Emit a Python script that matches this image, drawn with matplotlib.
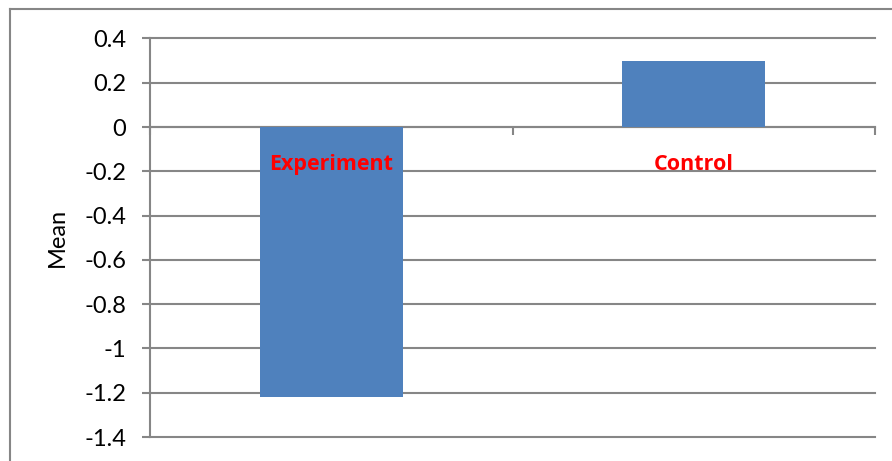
import matplotlib
matplotlib.use("Agg")
import matplotlib.pyplot as plt
from matplotlib.lines import Line2D

categories = ["Experiment", "Control"]
means = [-1.22, 0.30]
yticks = [0.4, 0.2, 0, -0.2, -0.4, -0.6, -0.8, -1, -1.2, -1.4]

bar_color = "#4F81BD"
grid_color = "#868686"

plt.rcParams["font.family"] = ["Lato", "DejaVu Sans"]

fig = plt.figure(figsize=(8.92, 4.61), dpi=100)
ax = fig.add_axes([150 / 892, 1 - 437 / 461, 725 / 892, 398.5 / 461])

x = list(range(len(categories)))
ax.bar(x, means, width=0.395, color=bar_color, zorder=3)

ax.set_xlim(-0.5, len(categories) - 0.5)
ax.set_ylim(-1.4, 0.4)
ax.set_yticks(yticks)
ax.set_yticklabels(["0" if v == 0 else f"{v:g}" for v in yticks], fontsize=17)
ax.yaxis.grid(True, color=grid_color, linewidth=1.5, zorder=1)
for gl in ax.get_ygridlines():
    gl.set_clip_on(False)
ax.set_ylabel("Mean", fontsize=17, labelpad=12)

# category axis sits on the zero line, ticks between categories
ax.spines["bottom"].set_position(("data", 0))
ax.spines["bottom"].set_color(grid_color)
ax.spines["bottom"].set_linewidth(1.5)
ax.spines["bottom"].set_zorder(2)
ax.set_xticks([-0.5, 0.5, 1.5])
ax.set_xticklabels([])
ax.tick_params(axis="x", direction="out", length=6, width=1.5, color=grid_color)
ax.tick_params(axis="y", direction="out", length=6, width=1.5, color=grid_color, pad=11)

ax.spines["left"].set_color(grid_color)
ax.spines["left"].set_linewidth(1.5)
ax.spines["top"].set_visible(False)
ax.spines["right"].set_visible(False)

for xi, name in zip(x, categories):
    ax.text(xi, -0.168, name, ha="center", va="center", color="red",
            fontsize=15.5, fontweight="bold", family=["Open Sans", "DejaVu Sans"],
            zorder=4)

# chart frame (left and top edges visible)
fig.add_artist(Line2D([10 / 892, 10 / 892], [0, 1 - 9 / 461], transform=fig.transFigure,
                      color=grid_color, linewidth=1.5))
fig.add_artist(Line2D([10 / 892, 1], [1 - 9 / 461, 1 - 9 / 461], transform=fig.transFigure,
                      color=grid_color, linewidth=1.5))

fig.savefig("out.png", dpi=100)
